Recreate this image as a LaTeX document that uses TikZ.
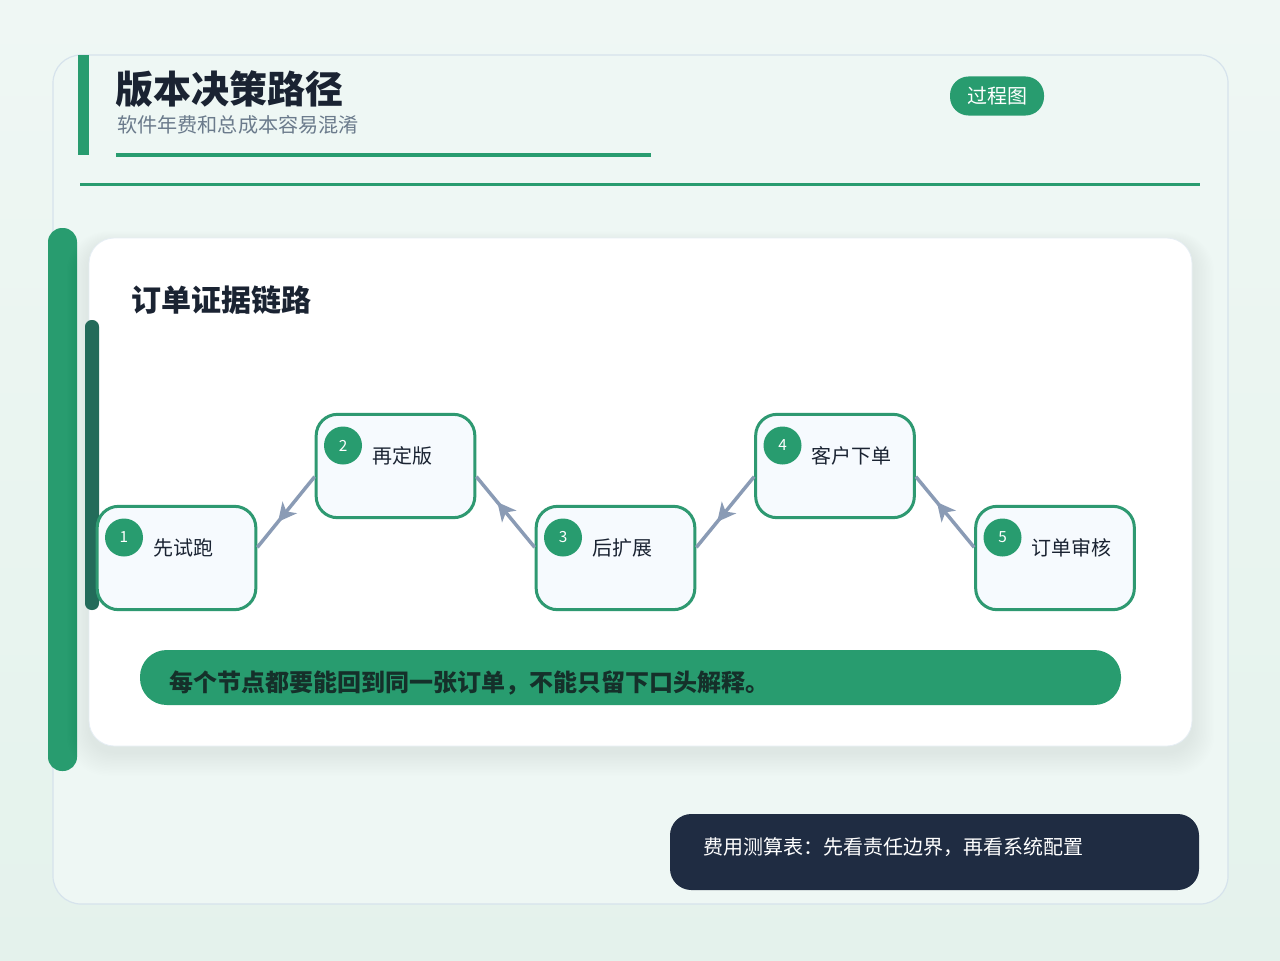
\documentclass[tikz,border=0pt]{standalone}
\usepackage{fontspec}
\setmainfont{Noto Sans CJK SC}
\usetikzlibrary{calc,arrows.meta,decorations.markings}
\definecolor{bgtop}{HTML}{EFF7F4}
\definecolor{bgbot}{HTML}{E4F2EC}
\definecolor{cardbg}{HTML}{EEF7F4}
\definecolor{cardline}{HTML}{D6E3EC}
\definecolor{accent}{HTML}{289C6F}
\definecolor{darkgreen}{HTML}{236B5A}
\definecolor{titlecol}{HTML}{1A2332}
\definecolor{subcol}{HTML}{6B7B8C}
\definecolor{nodefill}{HTML}{F6FAFE}
\definecolor{nodeline}{HTML}{2E9971}
\definecolor{conncol}{HTML}{8A9BB5}
\definecolor{footcol}{HTML}{1F2C42}
\definecolor{bannertext}{HTML}{15302A}
\begin{document}
\begin{tikzpicture}[x=0.75pt,y=-0.75pt,
  stepbox/.style={draw=nodeline, line width=2.25pt, fill=nodefill, rounded corners=16pt,
    minimum width=119pt, minimum height=77.5pt, inner sep=0pt},
  numdot/.style={circle, fill=accent, minimum size=28.5pt, inner sep=0pt, text=white, font=\fontsize{11.5}{12}\selectfont},
  steplabel/.style={anchor=west, inner sep=0pt, text=titlecol, font=\fontsize{15}{16}\selectfont},
  conn/.style={draw=conncol, line width=2.6pt, postaction={decorate},
    decoration={markings, mark=at position 0.64 with {\arrow[conncol, line width=1pt]{Stealth[length=14pt,width=14pt,inset=4pt]}}}}
]
\useasboundingbox (0,0) rectangle (1280,960);
\shade[top color=bgtop, bottom color=bgbot] (0,0) rectangle (1280,960);
% outer card
\draw[draw=cardline, line width=0.9pt, fill=cardbg, rounded corners=21pt] (53,55) rectangle (1228,904);
% header
\fill[accent] (78,55) rectangle (89,155);
\node[anchor=west, inner sep=0pt, text=titlecol, font=\bfseries\fontsize{28.5}{30}\selectfont] (title) at (115,89) {版本决策路径};
\node[anchor=west, inner sep=0pt, text=subcol, font=\fontsize{15.1}{16}\selectfont] (subtitle) at (117,125) {软件年费和总成本容易混淆};
\fill[accent] (116,153) rectangle (651,156.5);
\fill[accent] (80,183) rectangle (1200,186);
\node[fill=accent, rounded corners=14pt, minimum width=70.5pt, minimum height=29.3pt, inner sep=0pt, text=white, font=\fontsize{15}{16}\selectfont] (badge) at (997,96) {过程图};
% left big bar
\fill[accent, rounded corners=10.5pt] (48,228) rectangle (77,771);
% card shadow
\foreach \i in {1,...,16} {
  \fill[black, opacity=0.0055, rounded corners=19pt+\i*0.75pt] (89-\i*1.4,244-\i*0.8) rectangle (1192+\i*1.4,752+\i*1.5);
}
% white card
\draw[draw=cardline!60, line width=0.6pt, fill=white, rounded corners=19pt] (89,238) rectangle (1192,746);
\fill[darkgreen, rounded corners=5pt] (85,320) rectangle (99,610);
\node[anchor=west, inner sep=0pt, text=titlecol, font=\bfseries\fontsize{22.5}{24}\selectfont] (cardtitle) at (131,300) {订单证据链路};
% steps
\node[stepbox] (n1) at (176.5,558) {};
\node[stepbox] (n2) at (395.5,466) {};
\node[stepbox] (n3) at (615.5,558) {};
\node[stepbox] (n4) at (835,466) {};
\node[stepbox] (n5) at (1055,558) {};
\foreach \n/\t in {1/先试跑,2/再定版,3/后扩展,4/客户下单,5/订单审核} {
  \node[numdot] (d\n) at ($(n\n.center)+(-52.5,-20.5)$) {\n};
  \node[steplabel] (l\n) at ($(n\n.center)+(-23.5,-10)$) {\t};
}
% connectors
\draw[conn] ($(n2.north west)!0.6!(n2.south west)$) -- ($(n1.north east)!0.4!(n1.south east)$);
\draw[conn] ($(n3.north west)!0.4!(n3.south west)$) -- ($(n2.north east)!0.6!(n2.south east)$);
\draw[conn] ($(n4.north west)!0.6!(n4.south west)$) -- ($(n3.north east)!0.4!(n3.south east)$);
\draw[conn] ($(n5.north west)!0.4!(n5.south west)$) -- ($(n4.north east)!0.6!(n4.south east)$);
% banner
\fill[accent, rounded corners=20pt] (140,650) rectangle (1121,705);
\node[anchor=west, inner sep=0pt, text=bannertext, font=\bfseries\fontsize{18}{19}\selectfont] (banner) at (169,683) {每个节点都要能回到同一张订单，不能只留下口头解释。};
% footer
\fill[footcol, rounded corners=16pt] (670,814) rectangle (1199,890);
\node[anchor=west, inner sep=0pt, text=white, font=\fontsize{15}{16}\selectfont] (footer) at (703,847) {费用测算表：先看责任边界，再看系统配置};
\end{tikzpicture}
\end{document}
